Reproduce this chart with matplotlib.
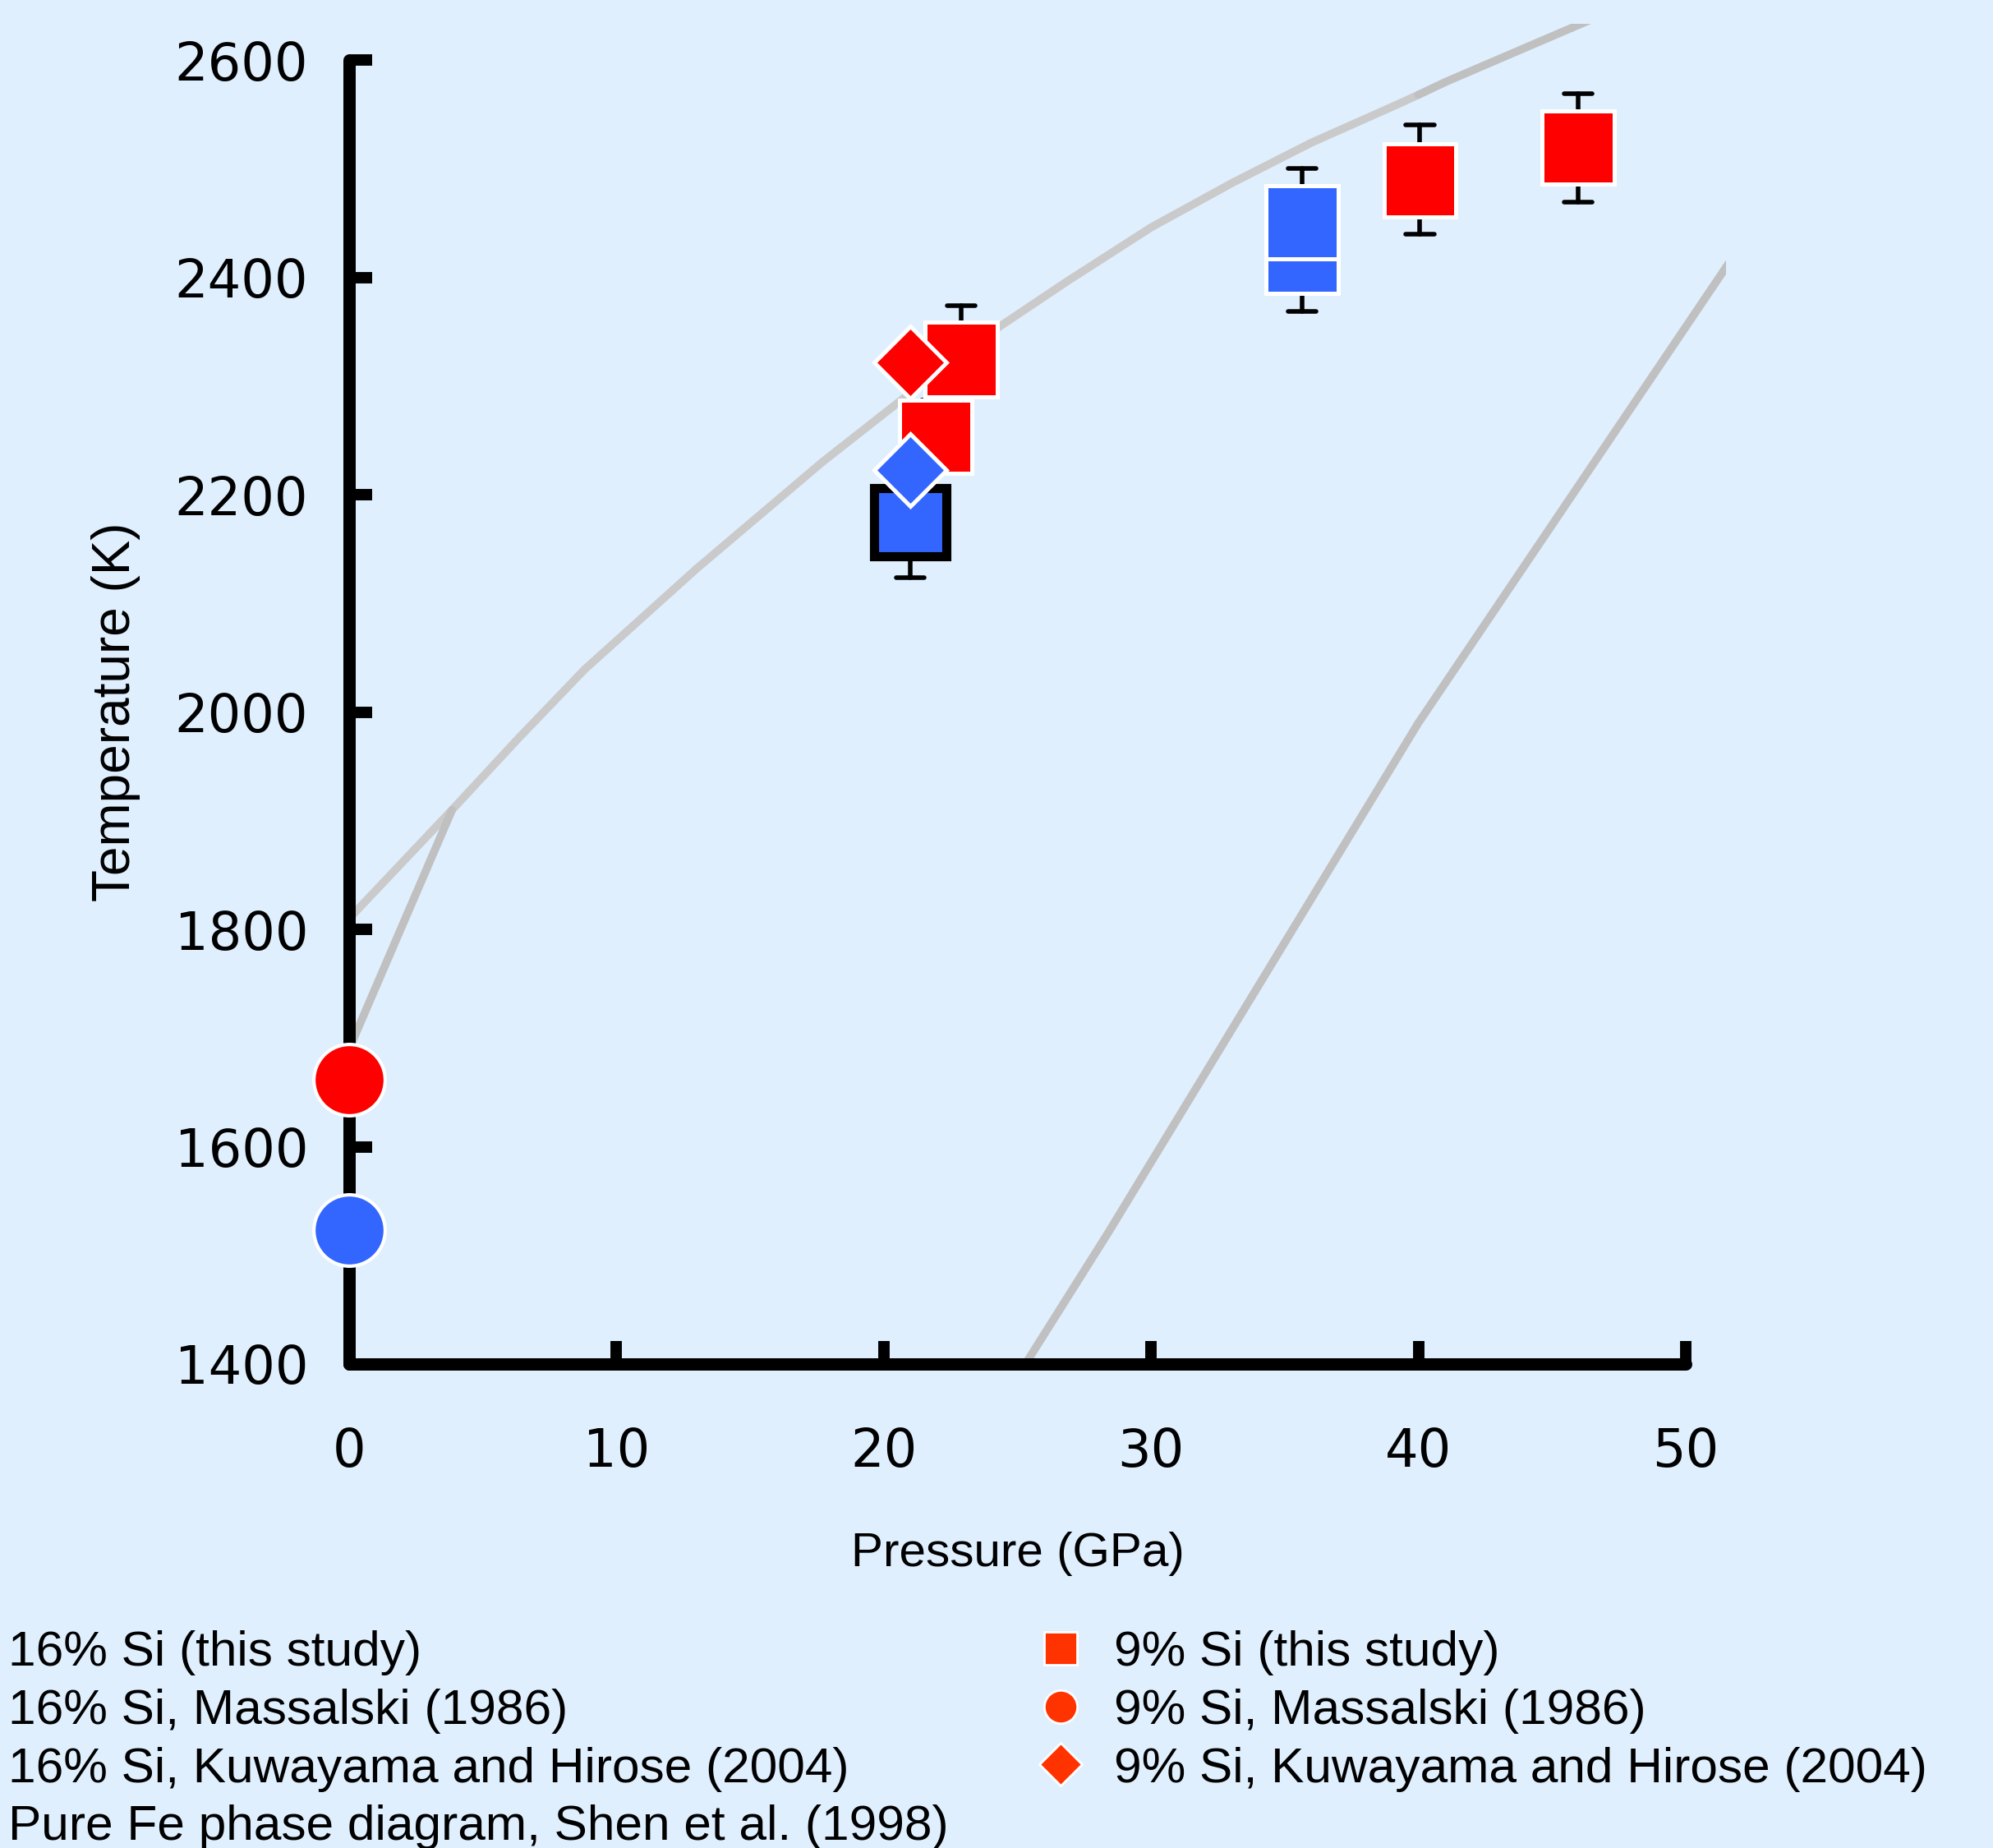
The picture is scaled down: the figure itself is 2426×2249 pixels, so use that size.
"""Melting temperature of Fe-Si alloys vs pressure, with pure Fe phase diagram."""

import matplotlib
matplotlib.use("Agg")
import matplotlib.pyplot as plt
from matplotlib.lines import Line2D
from matplotlib.patches import Rectangle

# --- data (pressure in GPa, temperature in K) ---
# 9% Si, this study: box stats
si9_pos = [22.9, 21.95, 40.06, 45.98]
si9_q1 = [2290, 2220, 2456, 2486]
si9_q3 = [2359, 2287, 2523, 2553]
si9_lo = [2290, 2220, 2440, 2469]
si9_hi = [2374, 2287, 2540, 2569]

# 16% Si, this study: box stats
si16_pos = [21.0, 35.65]
si16_q1 = [2143, 2385]
si16_med = [2143, 2417]
si16_q3 = [2206, 2484]
si16_lo = [2124, 2369]
si16_hi = [2206, 2500]

# Massalski (1986), 1 atm
mass_p = [0, 0]
mass_t = [1662, 1523]  # 9% Si, 16% Si

# Kuwayama and Hirose (2004)
kh_p = [21.0, 21.0]
kh_t = [2322, 2223]  # 9% Si, 16% Si

# Pure Fe phase diagram, Shen et al. (1998)
melt_p = [0, 3.85, 6.3, 8.8, 13.0, 17.7, 20.65, 23.8, 26.9, 30.0, 33.04,
          36.0, 39.2, 40.0]
melt_t = [1810, 1910, 1975, 2039, 2132, 2230, 2287, 2346, 2397, 2446, 2487,
          2524, 2559, 2568]
melt2_p = [40.0, 41.03, 47.0]
melt2_t = [2568, 2580, 2643]
dg_p = [0, 3.85]
dg_t = [1690, 1910]
ge_p = [25.3, 28.4, 40.0, 51.5, 52.5]
ge_t = [1400, 1521, 1990, 2409, 2445]

x_ticks = [0, 10, 20, 30, 40, 50]
y_ticks = [1400, 1600, 1800, 2000, 2200, 2400, 2600]

legend_labels = [
    "16% Si (this study)",
    "16% Si, Massalski (1986)",
    "16% Si, Kuwayama and Hirose (2004)",
    "Pure Fe phase diagram, Shen et al. (1998)",
    "9% Si (this study)",
    "9% Si, Massalski (1986)",
    "9% Si, Kuwayama and Hirose (2004)",
]

RED = "#ff0000"
BLUE = "#3366ff"
LEG_RED = "#ff3300"
BG = "#dfeffe"
GRAY = "#cacaca"
GRAY2 = "#c0c0c0"

fig = plt.figure(figsize=(24.26, 22.49), dpi=100, facecolor=BG)
ax = fig.add_axes([0.1752, 0.2619, 0.6706, 0.7056], facecolor=BG)

# phase boundaries run past the axes, clipped to a slightly larger plot area
clip_box = Rectangle((-2, 1300), 53.5, 1333, transform=ax.transData)
line_kw = dict(linewidth=7, solid_capstyle="round", clip_on=True, zorder=2)
phase_lines = []
phase_lines += ax.plot(melt_p, melt_t, color=GRAY, **line_kw)
phase_lines += ax.plot(melt2_p, melt2_t, color=GRAY2, **line_kw)
phase_lines += ax.plot(dg_p, dg_t, color=GRAY2, **line_kw)
phase_lines += ax.plot(ge_p, ge_t, color=GRAY2, **line_kw)
for ln in phase_lines:
    ln.set_clip_path(clip_box)


def box_stats(pos, q1, q3, lo, hi, med=None):
    stats = []
    for i in range(len(pos)):
        stats.append(dict(
            q1=q1[i], q3=q3[i], whislo=lo[i], whishi=hi[i],
            med=med[i] if med is not None else q1[i], fliers=[],
        ))
    return stats


whisk = dict(color="black", linewidth=4, solid_capstyle="round", zorder=3)

# 9% Si boxes
ax.bxp(
    box_stats(si9_pos, si9_q1, si9_q3, si9_lo, si9_hi),
    positions=si9_pos, widths=2.7, capwidths=1.05, patch_artist=True,
    showfliers=False, manage_ticks=False,
    boxprops=dict(facecolor=RED, edgecolor="white", linewidth=3.6, zorder=4),
    whiskerprops=whisk, capprops=whisk,
    medianprops=dict(linewidth=0, zorder=4),
)

# 16% Si boxes
b16 = ax.bxp(
    box_stats(si16_pos, si16_q1, si16_q3, si16_lo, si16_hi, si16_med),
    positions=si16_pos, widths=2.7, capwidths=1.05, patch_artist=True,
    showfliers=False, manage_ticks=False,
    boxprops=dict(facecolor=BLUE, edgecolor="white", linewidth=3.6, zorder=4),
    whiskerprops=whisk, capprops=whisk,
    medianprops=dict(color="white", linewidth=3.6, zorder=5),
)
# first 16% box is outlined in black
b16["boxes"][0].set_edgecolor("black")
b16["boxes"][0].set_linewidth(8)
b16["medians"][0].set_visible(False)

# Kuwayama and Hirose diamonds
ax.plot(kh_p[0], kh_t[0], "D", ms=44.5, mfc=RED, mec="white", mew=3.6, zorder=6)
ax.plot(kh_p[1], kh_t[1], "D", ms=44.5, mfc=BLUE, mec="white", mew=3.6, zorder=6)

# Massalski circles on the axis
ax.plot(mass_p[0], mass_t[0], "o", ms=62.5, mfc=RED, mec="white", mew=3,
        zorder=7, clip_on=False)
ax.plot(mass_p[1], mass_t[1], "o", ms=62.5, mfc=BLUE, mec="white", mew=3,
        zorder=7, clip_on=False)

# axes styling
ax.set_xlim(0, 50)
ax.set_ylim(1400, 2600)
ax.set_xticks(x_ticks)
ax.set_yticks(y_ticks)
for side in ("top", "right"):
    ax.spines[side].set_visible(False)
for side in ("left", "bottom"):
    ax.spines[side].set_linewidth(10.8)
    ax.spines[side].set_capstyle("round")
    ax.spines[side].set_zorder(5)
ax.tick_params(axis="both", direction="in", length=20, width=10, color="black",
               labelsize=46)
ax.tick_params(axis="x", pad=55)
ax.tick_params(axis="y", pad=36)
for lab in ax.get_xticklabels() + ax.get_yticklabels():
    lab.set_fontfamily("DejaVu Sans")

ax.set_xlabel("Pressure (GPa)", fontsize=42, fontfamily="Liberation Sans",
              labelpad=47)
ax.set_ylabel("Temperature (K)", fontsize=46, fontfamily="Liberation Sans",
              labelpad=30)

# legend: two columns, left column handles sit off the canvas
handles = [
    Line2D([], [], ls="none", marker="s", ms=29, mfc=BLUE, mec="white", mew=2),
    Line2D([], [], ls="none", marker="o", ms=29, mfc=BLUE, mec="white", mew=2),
    Line2D([], [], ls="none", marker="D", ms=26, mfc=BLUE, mec="white", mew=2),
    Line2D([], [], color=GRAY, lw=7),
    Line2D([], [], ls="none", marker="s", ms=29, mfc=LEG_RED, mec="white", mew=2),
    Line2D([], [], ls="none", marker="o", ms=29, mfc=LEG_RED, mec="white", mew=2),
    Line2D([], [], ls="none", marker="D", ms=26, mfc=LEG_RED, mec="white", mew=2),
]
fig.legend(
    handles, legend_labels, ncol=2, loc="upper left",
    bbox_to_anchor=(-0.0475, 0.1312), frameon=False,
    prop=dict(family="Liberation Sans", size=43.5),
    borderpad=0, handlelength=1.0, handletextpad=0.58,
    columnspacing=1.75, labelspacing=0.26,
)

fig.savefig("out.png", dpi=100, facecolor=BG)
